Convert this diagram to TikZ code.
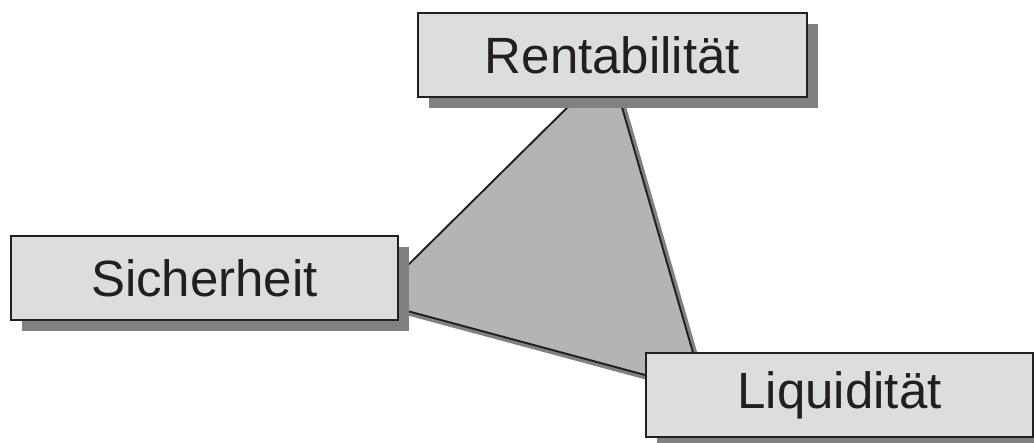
\documentclass[tikz,border=0pt]{standalone}
\usepackage{fontspec}
\setmainfont{Liberation Sans}
\usetikzlibrary{shadows}
\definecolor{boxfill}{HTML}{DCDDDF}
\definecolor{shadowgray}{HTML}{808183}
\definecolor{trifill}{HTML}{B3B4B6}
\definecolor{ink}{HTML}{231F20}
\tikzset{
  label box/.style={draw=ink, line width=2pt, fill=boxfill, text=ink,
    minimum height=84pt, inner sep=0pt, font=\fontsize{51}{60}\selectfont,
    drop shadow={shadow xshift=11pt, shadow yshift=-11pt, fill=shadowgray, opacity=1}},
  tri edge/.style={draw=ink, line width=1.9pt},
  sh/.style={xshift=6pt, yshift=-6pt},
}
\begin{document}
\begin{tikzpicture}[x=1pt,y=-1pt]
\useasboundingbox (0,0) rectangle (1034,442);
% triangle corners (partly hidden under boxes)
\coordinate (t1) at (585,90);
\coordinate (t2) at (617,90);
\coordinate (r1) at (698,370);
\coordinate (r2) at (660,379);
\coordinate (l1) at (400,309);
\coordinate (l2) at (400,273);
% shadow of triangle
\fill[shadowgray] ([sh]t1) -- ([sh]t2) -- ([sh]r1) -- ([sh]r2) -- ([sh]l1) -- ([sh]l2) -- cycle;
\fill[trifill] (t1) -- (t2) -- (r1) -- (r2) -- (l1) -- (l2) -- cycle;
\draw[tri edge] (l2) -- (t1);
\draw[tri edge] (t2) -- (r1);
\draw[tri edge] (l1) -- (r2);
% boxes
\node[label box, minimum width=389pt] (rent) at (612.5,55) {Rentabilität};
\node[label box, minimum width=387pt] (sich) at (204.5,278) {Sicherheit};
\node[label box, minimum width=387pt] (liq) at (839.5,395) {Liquidität};
\end{tikzpicture}
\end{document}
